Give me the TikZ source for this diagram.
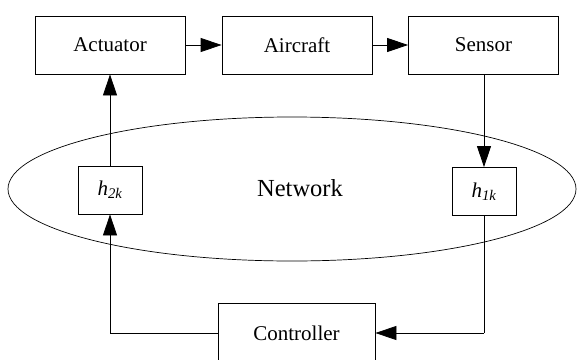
\documentclass[tikz,border=0pt]{standalone}
\usepackage{fontspec}
\setmainfont{Liberation Serif}
\usetikzlibrary{arrows.meta}
\begin{document}
\begin{tikzpicture}[x=1pt,y=-1pt,
  blk/.style={draw, line width=0.8pt, minimum width=150pt, minimum height=58pt, inner sep=0pt, font=\rmfamily\fontsize{21}{25}\selectfont},
  hbox/.style={draw, line width=0.8pt, minimum width=64pt, minimum height=48pt, inner sep=0pt, font=\rmfamily\itshape\fontsize{21}{25}\selectfont},
  conn/.style={line width=0.8pt, -{Triangle[length=21pt,width=14pt]}},
  plain/.style={line width=0.8pt}]
\useasboundingbox (0,0) rectangle (577,359);
\draw[line width=0.7pt] (292,189) ellipse (284 and 72);
\node[font=\rmfamily\fontsize{24.5}{28}\selectfont] (net) at (300,188) {Network};
\node[blk] (act) at (110,45) {Actuator};
\node[blk] (air) at (297,45) {Aircraft};
\node[blk] (sen) at (483.5,45) {Sensor};
\node[hbox] (h2) at (110,190) {h\textsubscript{2k}};
\node[hbox] (h1) at (484,191.5) {h\textsubscript{1k}};
\node[blk, minimum width=157pt, minimum height=60pt] (ctl) at (296.5,333) {Controller};
\coordinate (cl) at (110,333);
\coordinate (cr) at (484,333);
\draw[conn] (act) -- (air);
\draw[conn] (air) -- (sen);
\draw[conn] (sen.south -| h1) -- (h1.north);
\draw[conn] (h2.north) -- (act.south);
\draw[plain] (h1.south) -- (cr);
\draw[conn] (cr) -- (ctl.east);
\draw[plain] (ctl.west) -- (cl);
\draw[conn] (cl) -- (h2.south);
\end{tikzpicture}
\end{document}
